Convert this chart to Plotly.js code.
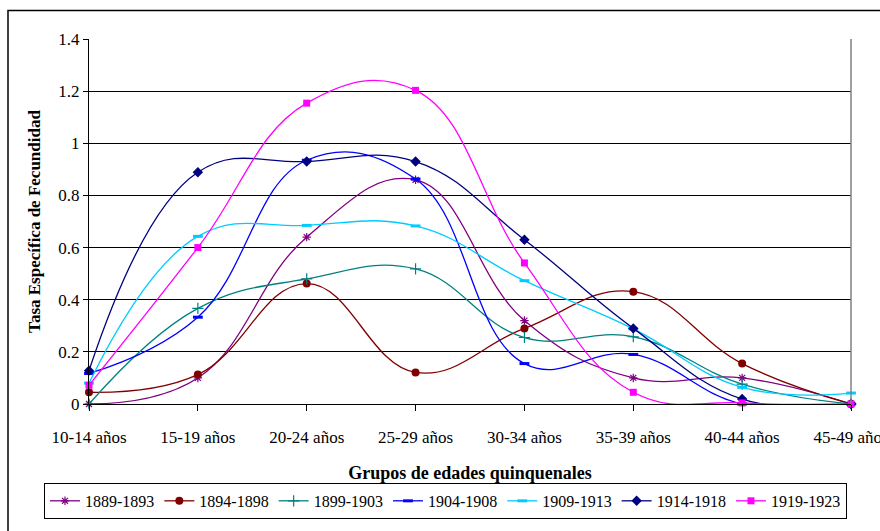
<!DOCTYPE html>
<html><head><meta charset="utf-8">
<script src="https://cdn.plot.ly/plotly-3.0.1.min.js"></script>
<style>html,body{margin:0;padding:0;background:#fff}#chart{width:880px;height:531px}</style>
</head><body><div id="chart"></div>
<script>
const categories = ["10-14 años","15-19 años","20-24 años","25-29 años","30-34 años","35-39 años","40-44 años","45-49 años"];
const seriesNames = ["1889-1893","1894-1898","1899-1903","1904-1908","1909-1913","1914-1918","1919-1923"];
const s1889 = [0.00, 0.10, 0.64, 0.86, 0.32, 0.10, 0.10, 0.00];
const s1894 = [0.045, 0.113, 0.462, 0.121, 0.29, 0.431, 0.155, 0.00];
const s1899 = [0.00, 0.367, 0.48, 0.518, 0.255, 0.258, 0.076, 0.00];
const s1904 = [0.117, 0.333, 0.935, 0.863, 0.155, 0.19, 0.00, 0.00];
const s1909 = [0.08, 0.643, 0.685, 0.683, 0.473, 0.288, 0.064, 0.042];
const s1914 = [0.128, 0.889, 0.93, 0.93, 0.63, 0.29, 0.019, 0.00];
const s1919 = [0.072, 0.60, 1.154, 1.203, 0.541, 0.045, 0.004, 0.00];

const seriesValues = [s1889, s1894, s1899, s1904, s1909, s1914, s1919];
const colors = ["#800080","#800000","#008080","#0000FF","#00CCFF","#000080","#FF00FF"];
const symbols = ["asterisk-open","circle","cross-thin-open","line-ew-open","line-ew-open","diamond","square"];
const msizes = [7,8,8,7,7,8,7];
const mlw = [1.2,0,1.2,3,3,0,0];

const traces = seriesValues.map((v,i)=>({
  type:'scatter', mode:'lines+markers', name:seriesNames[i],
  x: categories.map((c,j)=>j), y:v,
  line:{color:colors[i], width:1.3, shape:'spline', smoothing:1.2},
  marker:{color:colors[i], symbol:symbols[i], size:msizes[i], line:{color:colors[i], width:mlw[i]}},
  cliponaxis:false
}));

const font = "Liberation Serif";
const W=880,H=531,L=89,R=29,T=39,B=122;
const pw=W-L-R, ph=H-T-B;
const px=(x)=>(x-L)/pw, py=(y)=>(H-B-y)/ph;

const layout = {
  width:W, height:H,
  margin:{l:L,r:R,t:T,b:B},
  paper_bgcolor:'#fff', plot_bgcolor:'#fff',
  font:{family:font, size:16, color:'#000'},
  showlegend:true,
  xaxis:{
    range:[0,7], tickvals:categories.map((c,j)=>j), ticktext:categories,
    showgrid:false, zeroline:false, showline:true, linecolor:'#000', linewidth:1.2,
    ticks:'outside', ticklen:6, tickcolor:'#000', tickfont:{family:font,size:17},
    ticklabelstandoff:11, ticklabeloverflow:'allow',
    title:{text:'<b>Grupos de edades quinquenales</b>', font:{family:font,size:18}, standoff:20}
  },
  yaxis:{
    range:[0,1.4], dtick:0.2, tick0:0,
    showgrid:true, gridcolor:'#000', gridwidth:1,
    zeroline:false, showline:true, linecolor:'#000', linewidth:1.2,
    ticks:'outside', ticklen:5, tickcolor:'#000', tickfont:{family:font,size:17},
    title:{text:'<b>Tasa Específica de Fecundidad</b>', font:{family:font,size:17}, standoff:13}
  },
  legend:{
    orientation:'h', x:px(44), y:py(489), xanchor:'left', yanchor:'top',
    bordercolor:'#000', borderwidth:1, bgcolor:'#fff',
    font:{family:font,size:16}, traceorder:'normal', itemwidth:30
  },
  shapes:[
    {type:'line', xref:'paper', yref:'paper', x0:1, x1:1, y0:0, y1:1, line:{color:'#808080', width:1.5}},
    {type:'rect', xref:'paper', yref:'paper', x0:px(8), x1:px(886), y0:py(10), y1:py(540), line:{color:'#000', width:1.5}, fillcolor:'rgba(0,0,0,0)', layer:'below'}
  ]
};
Plotly.newPlot('chart', traces, layout, {displayModeBar:false, staticPlot:true});
</script></body></html>
